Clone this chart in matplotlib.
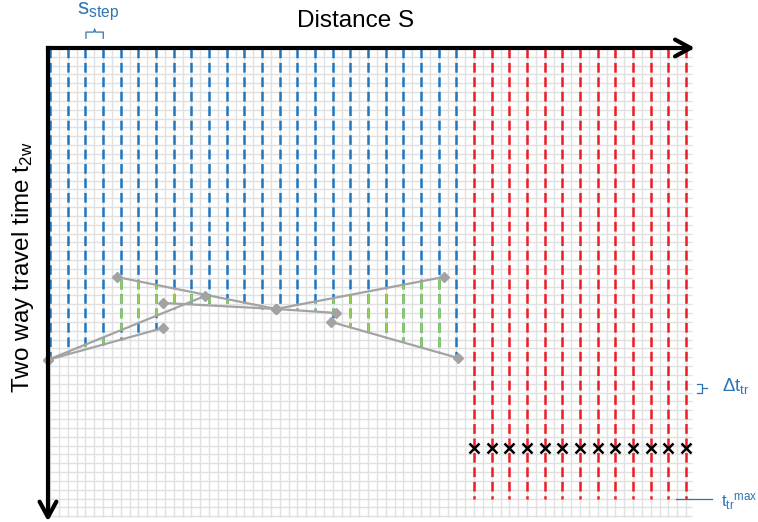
import numpy as np
import matplotlib.pyplot as plt

plt.rcParams['font.family'] = ['Liberation Sans', 'DejaVu Sans']
plt.rcParams['lines.scale_dashes'] = False

# traces along the profile (units of s_step) and travel times (units of delta t)
blue_traces = list(range(24))
red_traces = list(range(24, 37))

blue_end = [35.3, 34.6, 34.1, 33.6, 33.0, 32.5, 31.9, 29.5, 29.0, 29.1, 29.2, 29.35,
            29.5, 29.55, 29.7, 29.8, 31.1, 31.6, 32.2, 32.8, 33.3, 33.9, 34.5, 35.0]
green_top = [np.nan, 34.4, 33.6, 32.8, 26.0, 26.4, 26.8, 27.2, 27.6, 28.0, 28.4, 28.8,
             29.25, 29.46, 29.1, 28.7, 28.3, 27.96, 27.6, 27.2, 26.8, 26.4, 26.0, np.nan]
green_bot = [np.nan, 34.6, 34.1, 33.6, 31.96, 31.1, 30.3, 28.9, 28.7, 29.1, 29.2, 29.35,
             29.5, 29.55, 29.7, 29.8, 30.0, 31.6, 32.2, 32.8, 33.3, 33.9, 34.5, np.nan]

t_pick = 45.3   # picks on the traces without reflection
t_max = 51.0    # end of recording window

# reflector segments (trace, time) -> (trace, time)
seg_x0 = [-0.12, -0.12, 3.79, 6.4, 12.79, 12.79, 15.9]
seg_t0 = [35.3, 35.3, 25.92, 28.86, 29.54, 29.54, 31.0]
seg_x1 = [8.77, 6.4, 12.79, 12.79, 22.3, 16.19, 23.1]
seg_t1 = [28.07, 31.69, 29.54, 29.54, 25.92, 29.99, 35.09]

S = 2  # grid cells per s_step
PT = 8.835 * 0.72  # points per grid cell
DASH = (7.0, 3.4)
PERIOD = sum(DASH)

BLUE = '#1f77c0'
GREEN = '#92d050'
RED = '#ee1c25'
GRAY = '#a3a3a3'
TXT = '#2e75b6'

fig = plt.figure(figsize=(7.58, 5.22), dpi=100)
ax = fig.add_axes([0, 0, 1, 1])
ax.set_xlim(-5.66, 80.14)
ax.set_ylim(53.65, -5.43)
ax.axis('off')

# background grid
ax.vlines(np.arange(0, 73), 0, 53.1, color='#e0e0e0', lw=1, zorder=0)
ax.hlines(np.arange(1, 54), -0.23, 72.7, color='#e0e0e0', lw=1, zorder=0)

# traces
for i, tr in enumerate(blue_traces):
    x = tr * S
    ax.plot([x, x], [0, blue_end[i]], color=BLUE, lw=1.8, ls=(0, DASH), zorder=2)
    if not np.isnan(green_top[i]):
        off = (green_top[i] * PT) % PERIOD
        ax.plot([x, x], [green_top[i], green_bot[i]], color=GREEN, lw=1.8,
                ls=(off, DASH), zorder=3)

for tr in red_traces:
    x = tr * S
    ax.plot([x, x], [0, t_max], color=RED, lw=1.8, ls=(0, DASH), zorder=2)

ax.plot([tr * S for tr in red_traces], [t_pick] * len(red_traces), 'x',
        color='black', ms=7, mew=1.8, zorder=5)

# reflectors
for x0, t0, x1, t1 in zip(seg_x0, seg_t0, seg_x1, seg_t1):
    ax.plot([x0 * S, x1 * S], [t0, t1], color=GRAY, lw=1.6, marker='D', ms=5.2,
            zorder=4)

# axes arrows
ax.plot([-0.23, 72.4], [0, 0], color='black', lw=3, solid_capstyle='projecting', zorder=6)
ax.plot([70.75, 72.5, 70.75], [-0.95, 0, 0.95], color='black', lw=3,
        solid_capstyle='round', zorder=6)
ax.plot([-0.23, -0.23], [0, 53.0], color='black', lw=3, solid_capstyle='projecting', zorder=6)
ax.plot([-1.18, -0.23, 0.72], [51.35, 53.1, 51.35], color='black', lw=3,
        solid_capstyle='round', zorder=6)

ax.text(34.6, -3.06, 'Distance S', fontsize=17.5, ha='center', va='center')
ax.text(-3.1, 24.8, r'Two way travel time $\mathregular{t_{2w}}$', fontsize=17.5,
        rotation=90, ha='center', va='center')

# s_step brace
ax.plot([4.07, 4.07, 4.95, 5.05, 5.15, 6.03, 6.03],
        [-1.1, -1.8, -1.8, -2.15, -1.8, -1.8, -1.1], color=TXT, lw=0.9, clip_on=False)
ax.text(3.0, -3.8, r'$\mathregular{s_{step}}$', fontsize=16, color=TXT,
        ha='left', va='baseline')

# delta t brace
ax.plot([73.18, 73.85, 73.85, 73.18], [38.0, 38.0, 39.0, 39.0], color=TXT, lw=0.9)
ax.plot([73.85, 74.36], [38.5, 38.5], color=TXT, lw=0.9)
ax.text(76.06, 38.3, r'$\mathregular{\Delta t_{tr}}$', fontsize=13.5, color=TXT,
        ha='left', va='center')

# maximum time marker
ax.plot([70.9, 74.9], [51.05, 51.05], color=TXT, lw=0.9)
ax.text(75.9, 51.9, r'$\mathregular{t_{tr}{}^{max}}$', fontsize=12, color=TXT,
        ha='left', va='baseline')

fig.savefig('out.png', dpi=100)
